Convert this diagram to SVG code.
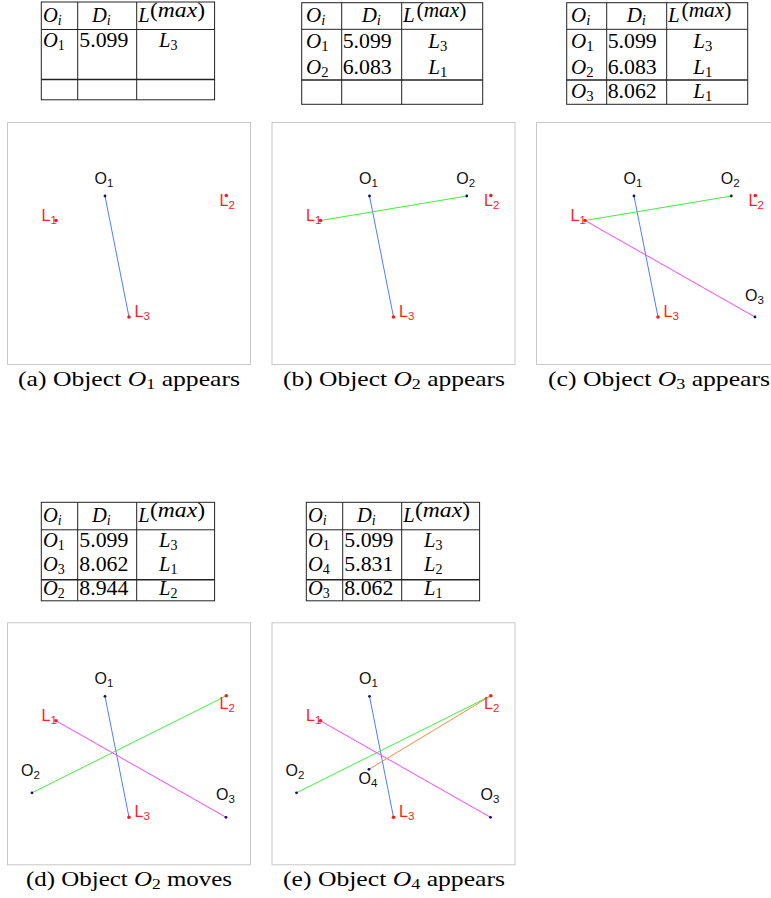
<svg xmlns="http://www.w3.org/2000/svg" width="771" height="898" viewBox="0 0 771 898">
<style>
.frame{fill:none;stroke:#c8c8c8;stroke-width:1}
.od{fill:#10106e}
.ld{fill:#ff1a1a}
.ol{font-family:"Liberation Sans",Arial,sans-serif;font-size:16px;fill:#111}
.ll{font-family:"Liberation Sans",Arial,sans-serif;font-size:16px;fill:#ff2020}
.sb{font-size:11.5px}
.c{stroke-width:1;fill:none}
.blue{stroke:#4f7dff}
.green{stroke:#3ef03e}
.mag{stroke:#ff40ff}
.orange{stroke:#ff8a3d}
.tb line,.tb rect{stroke:#222;stroke-width:1;fill:none}
.tb .thk{stroke-width:1.6}
.t1{font-family:"Liberation Serif","Times New Roman",serif;font-size:20.5px;fill:#000}
.t2{font-family:"Liberation Serif","Times New Roman",serif;font-size:21px;fill:#000}
.s1{font-size:14px}
.s2{font-size:14.7px}
.it{font-style:italic}
.up{font-style:normal}
.cap{font-family:"Liberation Serif","Times New Roman",serif;font-size:22px;fill:#000}
</style>

<!-- Tables -->
<g id="table-a" class="tb">
<rect x="41.3" y="2" width="173.3" height="97.8"/>
<line x1="77.7" y1="2" x2="77.7" y2="99.8"/><line x1="136.7" y1="2" x2="136.7" y2="99.8"/>
<line x1="41.3" y1="29.5" x2="214.6" y2="29.5"/><line class="thk" x1="41.3" y1="79.5" x2="214.6" y2="79.5"/>
<text class="t1 it" x="43" y="21.5">O<tspan class="s1" dy="3">i</tspan></text>
<text class="t1 it" x="92" y="21.5">D<tspan class="s1" dy="3">i</tspan></text>
<text class="t1 it" x="138.3" y="21.5">L</text>
<text class="t1" x="150" y="16.5" font-size="12.5" textLength="55" lengthAdjust="spacingAndGlyphs">(<tspan class="it">max</tspan>)</text>
<text class="t1 it" x="43" y="47">O<tspan class="s1 up" dy="3">1</tspan></text>
<text class="t1" x="79.3" y="47" textLength="49" lengthAdjust="spacingAndGlyphs">5.099</text>
<text class="t1 it" x="159" y="47">L<tspan class="s1 up" dy="3">3</tspan></text>
</g>

<g id="table-b" class="tb">
<rect x="301.7" y="2.7" width="181" height="101.6"/>
<line x1="341.7" y1="2.7" x2="341.7" y2="104.3"/><line x1="401.7" y1="2.7" x2="401.7" y2="104.3"/>
<line x1="301.7" y1="29.3" x2="482.7" y2="29.3"/><line class="thk" x1="301.7" y1="80" x2="482.7" y2="80"/>
<text class="t2 it" x="306" y="21.5">O<tspan class="s2" dy="3">i</tspan></text>
<text class="t2 it" x="361.7" y="21.5">D<tspan class="s2" dy="3">i</tspan></text>
<text class="t2 it" x="403" y="21.5">L</text>
<text class="t2" x="416.5" y="17.3" font-size="12.5" textLength="50" lengthAdjust="spacingAndGlyphs">(<tspan class="it">max</tspan>)</text>
<text class="t2 it" x="306" y="48.3">O<tspan class="s2 up" dy="3">1</tspan></text>
<text class="t2" x="342.7" y="48.3" textLength="49" lengthAdjust="spacingAndGlyphs">5.099</text>
<text class="t2 it" x="428.3" y="48.3">L<tspan class="s2 up" dy="3">3</tspan></text>
<text class="t2 it" x="306" y="74">O<tspan class="s2 up" dy="3">2</tspan></text>
<text class="t2" x="342.7" y="74" textLength="49" lengthAdjust="spacingAndGlyphs">6.083</text>
<text class="t2 it" x="428.3" y="74">L<tspan class="s2 up" dy="3">1</tspan></text>
</g>

<g id="table-c" class="tb" transform="translate(265,0)">
<rect x="301.7" y="2.7" width="181" height="101.6"/>
<line x1="341.7" y1="2.7" x2="341.7" y2="104.3"/><line x1="401.7" y1="2.7" x2="401.7" y2="104.3"/>
<line x1="301.7" y1="29.3" x2="482.7" y2="29.3"/><line class="thk" x1="301.7" y1="80" x2="482.7" y2="80"/>
<text class="t2 it" x="306" y="21.5">O<tspan class="s2" dy="3">i</tspan></text>
<text class="t2 it" x="361.7" y="21.5">D<tspan class="s2" dy="3">i</tspan></text>
<text class="t2 it" x="403" y="21.5">L</text>
<text class="t2" x="416.5" y="17.3" font-size="12.5" textLength="50" lengthAdjust="spacingAndGlyphs">(<tspan class="it">max</tspan>)</text>
<text class="t2 it" x="306" y="48.3">O<tspan class="s2 up" dy="3">1</tspan></text>
<text class="t2" x="342.7" y="48.3" textLength="49" lengthAdjust="spacingAndGlyphs">5.099</text>
<text class="t2 it" x="428.3" y="48.3">L<tspan class="s2 up" dy="3">3</tspan></text>
<text class="t2 it" x="306" y="74">O<tspan class="s2 up" dy="3">2</tspan></text>
<text class="t2" x="342.7" y="74" textLength="49" lengthAdjust="spacingAndGlyphs">6.083</text>
<text class="t2 it" x="428.3" y="74">L<tspan class="s2 up" dy="3">1</tspan></text>
<text class="t2 it" x="306" y="97.7">O<tspan class="s2 up" dy="3">3</tspan></text>
<text class="t2" x="342.7" y="97.7" textLength="49" lengthAdjust="spacingAndGlyphs">8.062</text>
<text class="t2 it" x="428.3" y="97.7">L<tspan class="s2 up" dy="3">1</tspan></text>
</g>

<g id="table-d" class="tb" transform="translate(0,500.3)">
<rect x="41.3" y="2" width="173.3" height="98.5"/>
<line x1="77.7" y1="2" x2="77.7" y2="100.5"/><line x1="136.7" y1="2" x2="136.7" y2="100.5"/>
<line x1="41.3" y1="29.5" x2="214.6" y2="29.5"/><line class="thk" x1="41.3" y1="79.5" x2="214.6" y2="79.5"/>
<text class="t1 it" x="43" y="21.5">O<tspan class="s1" dy="3">i</tspan></text>
<text class="t1 it" x="92" y="21.5">D<tspan class="s1" dy="3">i</tspan></text>
<text class="t1 it" x="138.3" y="21.5">L</text>
<text class="t1" x="150" y="16.5" font-size="12.5" textLength="55" lengthAdjust="spacingAndGlyphs">(<tspan class="it">max</tspan>)</text>
<text class="t1 it" x="43" y="47">O<tspan class="s1 up" dy="3">1</tspan></text>
<text class="t1" x="79.3" y="47" textLength="49" lengthAdjust="spacingAndGlyphs">5.099</text>
<text class="t1 it" x="159" y="47">L<tspan class="s1 up" dy="3">3</tspan></text>
<text class="t1 it" x="43" y="70.5">O<tspan class="s1 up" dy="3">3</tspan></text>
<text class="t1" x="79.3" y="70.5" textLength="49" lengthAdjust="spacingAndGlyphs">8.062</text>
<text class="t1 it" x="159" y="70.5">L<tspan class="s1 up" dy="3">1</tspan></text>
<text class="t1 it" x="43" y="94.5">O<tspan class="s1 up" dy="3">2</tspan></text>
<text class="t1" x="79.3" y="94.5" textLength="49" lengthAdjust="spacingAndGlyphs">8.944</text>
<text class="t1 it" x="159" y="94.5">L<tspan class="s1 up" dy="3">2</tspan></text>
</g>

<g id="table-e" class="tb" transform="translate(265,500.3)">
<rect x="41.3" y="2" width="173.3" height="98.5"/>
<line x1="77.7" y1="2" x2="77.7" y2="100.5"/><line x1="136.7" y1="2" x2="136.7" y2="100.5"/>
<line x1="41.3" y1="29.5" x2="214.6" y2="29.5"/><line class="thk" x1="41.3" y1="79.5" x2="214.6" y2="79.5"/>
<text class="t1 it" x="43" y="21.5">O<tspan class="s1" dy="3">i</tspan></text>
<text class="t1 it" x="92" y="21.5">D<tspan class="s1" dy="3">i</tspan></text>
<text class="t1 it" x="138.3" y="21.5">L</text>
<text class="t1" x="150" y="16.5" font-size="12.5" textLength="55" lengthAdjust="spacingAndGlyphs">(<tspan class="it">max</tspan>)</text>
<text class="t1 it" x="43" y="47">O<tspan class="s1 up" dy="3">1</tspan></text>
<text class="t1" x="79.3" y="47" textLength="49" lengthAdjust="spacingAndGlyphs">5.099</text>
<text class="t1 it" x="159" y="47">L<tspan class="s1 up" dy="3">3</tspan></text>
<text class="t1 it" x="43" y="70.5">O<tspan class="s1 up" dy="3">4</tspan></text>
<text class="t1" x="79.3" y="70.5" textLength="49" lengthAdjust="spacingAndGlyphs">5.831</text>
<text class="t1 it" x="159" y="70.5">L<tspan class="s1 up" dy="3">2</tspan></text>
<text class="t1 it" x="43" y="94.5">O<tspan class="s1 up" dy="3">3</tspan></text>
<text class="t1" x="79.3" y="94.5" textLength="49" lengthAdjust="spacingAndGlyphs">8.062</text>
<text class="t1 it" x="159" y="94.5">L<tspan class="s1 up" dy="3">1</tspan></text>
</g>

<!-- Frames -->
<g id="frames">
<rect class="frame" x="7.5" y="122.5" width="243" height="242"/>
<rect class="frame" x="272" y="122.5" width="243" height="242"/>
<rect class="frame" x="536.5" y="122.5" width="243" height="242"/>
<rect class="frame" x="7.5" y="622.8" width="243" height="242"/>
<rect class="frame" x="272" y="622.8" width="243" height="242"/>
</g>

<!-- Connectors -->
<g id="connectors" class="c">
<g transform="translate(0,0)">
<line class="blue" x1="105" y1="196" x2="129" y2="317"/>
</g>
<g transform="translate(264.5,0)">
<line class="blue" x1="105" y1="196" x2="129" y2="317"/>
<line class="green" x1="56" y1="220.5" x2="202.3" y2="196"/>
</g>
<g transform="translate(529,0)">
<line class="blue" x1="105" y1="196" x2="129" y2="317"/>
<line class="green" x1="56" y1="220.5" x2="202.3" y2="196"/>
<line class="mag" x1="56" y1="220.5" x2="226" y2="317"/>
</g>
<g transform="translate(0,500.3)">
<line class="blue" x1="105" y1="196" x2="129" y2="317"/>
<line class="green" x1="32" y1="292.5" x2="226.3" y2="195.5"/>
<line class="mag" x1="56" y1="220.5" x2="226" y2="317"/>
</g>
<g transform="translate(264.5,500.3)">
<line class="blue" x1="105" y1="196" x2="129" y2="317"/>
<line class="green" x1="32" y1="292.5" x2="226.3" y2="195.5"/>
<line class="mag" x1="56" y1="220.5" x2="226" y2="317"/>
<line class="orange" x1="104.5" y1="269" x2="226.3" y2="195.5"/>
</g>
</g>

<!-- Panel (a) -->
<g id="panel-a">
<g id="a-O1"><circle class="od" cx="105" cy="196" r="1.4"/><text class="ol" x="94.5" y="183.5">O<tspan class="sb" dy="3">1</tspan></text></g>
<g id="a-L1"><text class="ll" x="41.5" y="220.5">L<tspan class="sb" dy="3">1</tspan></text><circle class="ld" cx="56" cy="220.5" r="1.8"/></g>
<g id="a-L2"><text class="ll" x="219.5" y="206">L<tspan class="sb" dy="3">2</tspan></text><circle class="ld" cx="226.3" cy="195.5" r="1.8"/></g>
<g id="a-L3"><text class="ll" x="134.5" y="316.7">L<tspan class="sb" dy="3">3</tspan></text><circle class="ld" cx="129" cy="317" r="1.8"/></g>
</g>

<!-- Panel (b) -->
<g id="panel-b" transform="translate(264.5,0)">
<g id="b-O1"><circle class="od" cx="105" cy="196" r="1.4"/><text class="ol" x="94.5" y="183.5">O<tspan class="sb" dy="3">1</tspan></text></g>
<g id="b-O2"><circle class="od" cx="202.3" cy="196" r="1.4"/><text class="ol" x="191.7" y="183.5">O<tspan class="sb" dy="3">2</tspan></text></g>
<g id="b-L1"><text class="ll" x="41.5" y="220.5">L<tspan class="sb" dy="3">1</tspan></text><circle class="ld" cx="56" cy="220.5" r="1.8"/></g>
<g id="b-L2"><text class="ll" x="219.5" y="206">L<tspan class="sb" dy="3">2</tspan></text><circle class="ld" cx="226.3" cy="195.5" r="1.8"/></g>
<g id="b-L3"><text class="ll" x="134.5" y="316.7">L<tspan class="sb" dy="3">3</tspan></text><circle class="ld" cx="129" cy="317" r="1.8"/></g>
</g>

<!-- Panel (c) -->
<g id="panel-c" transform="translate(529,0)">
<g id="c-O1"><circle class="od" cx="105" cy="196" r="1.4"/><text class="ol" x="94.5" y="183.5">O<tspan class="sb" dy="3">1</tspan></text></g>
<g id="c-O2"><circle class="od" cx="202.3" cy="196" r="1.4"/><text class="ol" x="191.7" y="183.5">O<tspan class="sb" dy="3">2</tspan></text></g>
<g id="c-O3"><circle class="od" cx="226" cy="317" r="1.4"/><text class="ol" x="216" y="301">O<tspan class="sb" dy="3">3</tspan></text></g>
<g id="c-L1"><text class="ll" x="41.5" y="220.5">L<tspan class="sb" dy="3">1</tspan></text><circle class="ld" cx="56" cy="220.5" r="1.8"/></g>
<g id="c-L2"><text class="ll" x="219.5" y="206">L<tspan class="sb" dy="3">2</tspan></text><circle class="ld" cx="226.3" cy="195.5" r="1.8"/></g>
<g id="c-L3"><text class="ll" x="134.5" y="316.7">L<tspan class="sb" dy="3">3</tspan></text><circle class="ld" cx="129" cy="317" r="1.8"/></g>
</g>

<!-- Panel (d) -->
<g id="panel-d" transform="translate(0,500.3)">
<g id="d-O1"><circle class="od" cx="105" cy="196" r="1.4"/><text class="ol" x="94.5" y="184">O<tspan class="sb" dy="3">1</tspan></text></g>
<g id="d-O2"><circle class="od" cx="32" cy="292.5" r="1.4"/><text class="ol" x="21" y="276">O<tspan class="sb" dy="3">2</tspan></text></g>
<g id="d-O3"><circle class="od" cx="226" cy="317" r="1.4"/><text class="ol" x="216" y="300">O<tspan class="sb" dy="3">3</tspan></text></g>
<g id="d-L1"><text class="ll" x="41.5" y="220.5">L<tspan class="sb" dy="3">1</tspan></text><circle class="ld" cx="56" cy="220.5" r="1.8"/></g>
<g id="d-L2"><text class="ll" x="219.5" y="208.5">L<tspan class="sb" dy="3">2</tspan></text><circle class="ld" cx="226.3" cy="195.5" r="1.8"/></g>
<g id="d-L3"><text class="ll" x="134.5" y="316.7">L<tspan class="sb" dy="3">3</tspan></text><circle class="ld" cx="129" cy="317" r="1.8"/></g>
</g>

<!-- Panel (e) -->
<g id="panel-e" transform="translate(264.5,500.3)">
<g id="e-O1"><circle class="od" cx="105" cy="196" r="1.4"/><text class="ol" x="94.5" y="184">O<tspan class="sb" dy="3">1</tspan></text></g>
<g id="e-O2"><circle class="od" cx="32" cy="292.5" r="1.4"/><text class="ol" x="21" y="276">O<tspan class="sb" dy="3">2</tspan></text></g>
<g id="e-O3"><circle class="od" cx="226" cy="317" r="1.4"/><text class="ol" x="216" y="300">O<tspan class="sb" dy="3">3</tspan></text></g>
<g id="e-O4"><circle class="od" cx="104.5" cy="269" r="1.4"/><text class="ol" x="94" y="284">O<tspan class="sb" dy="3">4</tspan></text></g>
<g id="e-L1"><text class="ll" x="41.5" y="220.5">L<tspan class="sb" dy="3">1</tspan></text><circle class="ld" cx="56" cy="220.5" r="1.8"/></g>
<g id="e-L2"><text class="ll" x="219.5" y="208.5">L<tspan class="sb" dy="3">2</tspan></text><circle class="ld" cx="226.3" cy="195.5" r="1.8"/></g>
<g id="e-L3"><text class="ll" x="134.5" y="316.7">L<tspan class="sb" dy="3">3</tspan></text><circle class="ld" cx="129" cy="317" r="1.8"/></g>
</g>

<!-- Captions -->
<g id="captions">
<text class="cap" x="18" y="386" textLength="222" lengthAdjust="spacingAndGlyphs">(a) Object <tspan class="it">O</tspan><tspan font-size="15.5" dy="3">1</tspan><tspan dy="-3"> appears</tspan></text>
<text class="cap" x="283" y="386" textLength="222" lengthAdjust="spacingAndGlyphs">(b) Object <tspan class="it">O</tspan><tspan font-size="15.5" dy="3">2</tspan><tspan dy="-3"> appears</tspan></text>
<text class="cap" x="548" y="386" textLength="222" lengthAdjust="spacingAndGlyphs">(c) Object <tspan class="it">O</tspan><tspan font-size="15.5" dy="3">3</tspan><tspan dy="-3"> appears</tspan></text>
<text class="cap" x="26" y="886" textLength="206" lengthAdjust="spacingAndGlyphs">(d) Object <tspan class="it">O</tspan><tspan font-size="15.5" dy="3">2</tspan><tspan dy="-3"> moves</tspan></text>
<text class="cap" x="283" y="886" textLength="222" lengthAdjust="spacingAndGlyphs">(e) Object <tspan class="it">O</tspan><tspan font-size="15.5" dy="3">4</tspan><tspan dy="-3"> appears</tspan></text>
</g>
</svg>
